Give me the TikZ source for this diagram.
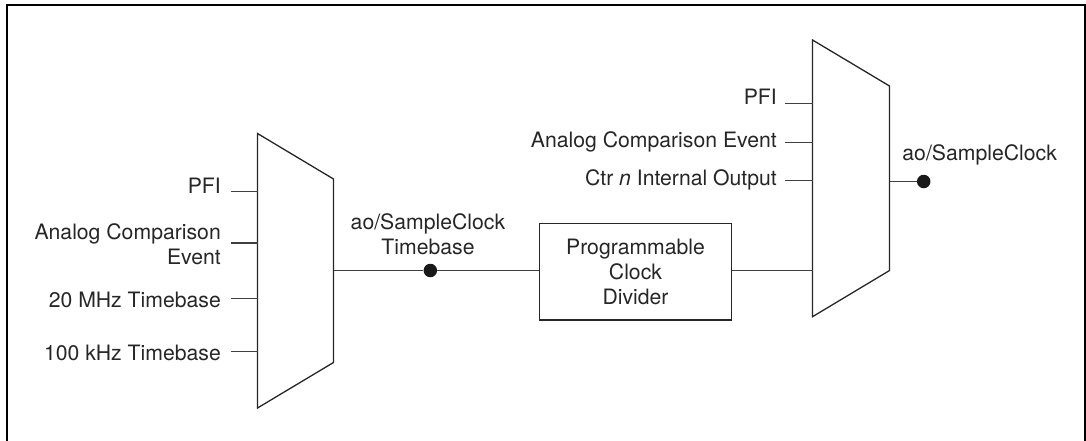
\documentclass[tikz,border=0pt]{standalone}
\usepackage{fontspec}
\setmainfont{TeX Gyre Heros}
\tikzset{
  x=1pt,y=-1pt,
  wire/.style={draw=black!75,line width=1.4pt},
  muxshape/.style={draw=black!85,line width=1.3pt,line join=miter},
  lbl/.style={inner sep=0pt,font=\fontsize{21.2}{25.3}\selectfont,text=black!85},
  lblr/.style={lbl,anchor=east,align=right},
  dotn/.style={circle,fill=black!90,inner sep=0pt,minimum size=13.5pt},
}
\begin{document}
\begin{tikzpicture}
\useasboundingbox (0,0) rectangle (1086,441);
\draw[line width=2pt,black] (6.7,442) -- (6.7,5) -- (1084.7,5) -- (1084.7,442);
% left mux
\draw[muxshape] (257.5,133.5) -- (333.5,179) -- (333.5,362.5) -- (257.5,408) -- cycle;
\coordinate (la) at (257.5,191.5);
\coordinate (lb) at (257.5,243);
\coordinate (lc) at (257.5,298.5);
\coordinate (ld) at (257.5,351.5);
\coordinate (lo) at (333.5,270.5);
% right mux
\draw[muxshape] (812.5,40) -- (889.5,86) -- (889.5,270.5) -- (812.5,316.7) -- cycle;
\coordinate (ra) at (812.5,103.5);
\coordinate (rb) at (812.5,142.5);
\coordinate (rc) at (812.5,180.5);
\coordinate (rd) at (812.5,270.5);
\coordinate (ro) at (889.5,181.5);
\node[lblr] (t1) at (221,185.7) {PFI};
\node[lblr] (t2) at (221,244.2) {Analog Comparison\\Event};
\node[lblr] (t3) at (221,300) {20 MHz Timebase};
\node[lblr] (t4) at (221,352.5) {100 kHz Timebase};
\node[lbl,align=center] (t5) at (428,234.2) {ao/SampleClock\\Timebase};
\node[lblr] (t6) at (777,96.7) {PFI};
\node[lblr] (t7) at (777,142.3) {Analog Comparison Event};
\node[lblr] (t8) at (777,180) {Ctr \textit{n} Internal Output};
\node[lbl] (t9) at (979.7,155.3) {ao/SampleClock};
\node[draw=black!85,line width=1.3pt,lbl,minimum width=192pt,minimum height=96.5pt,align=center] (div) at (635.5,271.75) {Programmable\\Clock\\Divider};
\node[dotn] (d1) at (430.3,270.5) {};
\node[dotn] (d2) at (923.7,181.5) {};
\coordinate (a1) at (230.5,191.5);
\coordinate (a2) at (230.5,243);
\coordinate (a3) at (230.5,298.5);
\coordinate (a4) at (230.5,351.5);
\coordinate (b1) at (785,103.5);
\coordinate (b2) at (785,142.5);
\coordinate (b3) at (785,180.5);
\draw[wire] (a1)--(la) (a2)--(lb) (a3)--(lc) (a4)--(ld);
\draw[wire] (b1)--(ra) (b2)--(rb) (b3)--(rc);
\draw[wire] (lo)--(d1)--(div.west |- d1);
\draw[wire] (div.east |- rd)--(rd);
\draw[wire] (ro)--(d2);
\end{tikzpicture}
\end{document}
